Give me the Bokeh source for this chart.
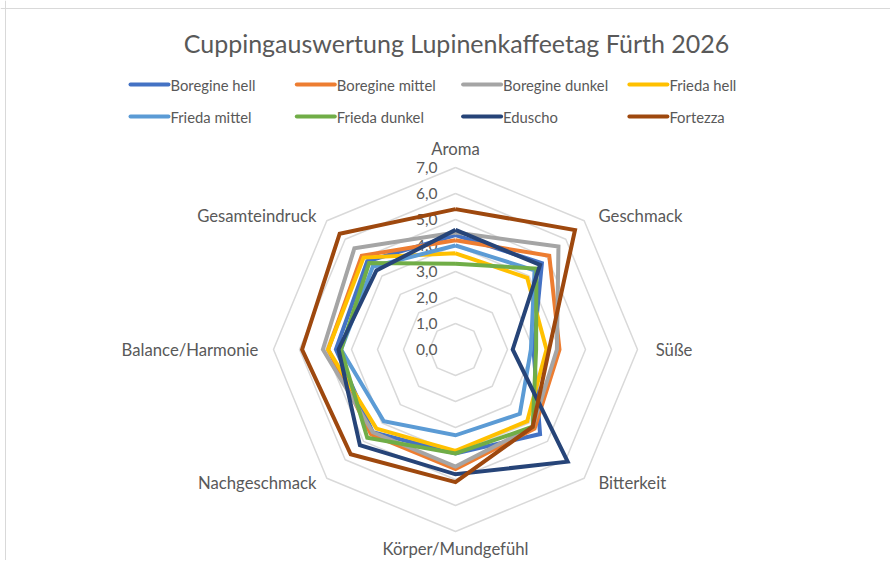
import numpy as np
from bokeh.plotting import figure
from bokeh.models import Range1d, Span, ColumnDataSource
from bokeh.embed import file_html
from bokeh.resources import INLINE
from bokeh.core.properties import value

# ---------------- data ----------------
title_text = "Cuppingauswertung Lupinenkaffeetag Fürth 2026"
categories = ["Aroma", "Geschmack", "Süße", "Bitterkeit", "Körper/Mundgefühl",
              "Nachgeschmack", "Balance/Harmonie", "Gesamteindruck"]
series_names = ["Boregine hell", "Boregine mittel", "Boregine dunkel", "Frieda hell",
                "Frieda mittel", "Frieda dunkel", "Eduscho", "Fortezza"]
boregine_hell = [4.4, 4.7, 3.0, 4.6, 4.0, 4.5, 4.6, 4.8]
boregine_mittel = [4.2, 5.1, 4.0, 4.3, 4.6, 4.6, 4.9, 5.1]
boregine_dunkel = [4.5, 5.6, 3.9, 4.2, 4.5, 4.5, 5.1, 5.5]
frieda_hell = [3.7, 3.9, 3.5, 3.9, 3.9, 4.3, 4.9, 5.0]
frieda_mittel = [4.0, 4.3, 2.9, 3.5, 3.3, 3.9, 4.4, 4.5]
frieda_dunkel = [3.3, 4.4, 3.1, 4.2, 4.0, 4.8, 4.4, 4.7]
eduscho = [4.6, 4.6, 2.2, 6.1, 4.8, 5.2, 4.5, 4.3]
fortezza = [5.4, 6.5, 3.6, 4.2, 5.1, 5.7, 5.9, 6.3]
tick_values = [0, 1, 2, 3, 4, 5, 6, 7]
tick_labels = ["0,0", "1,0", "2,0", "3,0", "4,0", "5,0", "6,0", "7,0"]

all_series = [boregine_hell, boregine_mittel, boregine_dunkel, frieda_hell,
              frieda_mittel, frieda_dunkel, eduscho, fortezza]
colors = ["#4472C4", "#ED7D31", "#A5A5A5", "#FFC000",
          "#5B9BD5", "#70AD47", "#264478", "#9E480E"]

# ---------------- geometry ----------------
W, H = 890, 560
U = 26.0            # pixels per unit
CXP, CYP = 455, 349  # picture coordinates of radar centre
OFF = 0


def P(xp, yp):
    """picture pixel -> data coordinates"""
    return (xp - CXP) / U, (CYP - yp) / U


n = len(categories)
theta = np.pi / 2 - np.arange(n) * 2 * np.pi / n

p = figure(width=W, height=H, output_backend="svg", toolbar_location=None,
           min_border=0, outline_line_color=None,
           x_range=Range1d(-(CXP - OFF) / U, (W - (CXP - OFF)) / U),
           y_range=Range1d(-(H - (CYP - OFF)) / U, (CYP - OFF) / U))
p.axis.visible = False
p.grid.visible = False
p.background_fill_color = "white"
p.border_fill_color = "white"

# chart area border (top / left)
p.add_layout(Span(location=P(0, 8)[1], dimension="width", line_color="#d9d9d9", line_width=1))
p.add_layout(Span(location=P(5, 0)[0], dimension="height", line_color="#d9d9d9", line_width=1))

# rings
ring_xs, ring_ys = [], []
for r in tick_values[1:]:
    ring_xs.append(list(r * np.cos(theta)) + [r * np.cos(theta[0])])
    ring_ys.append(list(r * np.sin(theta)) + [r * np.sin(theta[0])])
p.multi_line(ring_xs, ring_ys, line_color="#d9d9d9", line_width=1.5)

# tick labels
tx = P(437, 0)[0]
p.text(x=[tx] * len(tick_values), y=tick_values, text=tick_labels,
       text_align="right", text_baseline="middle", text_color="#595959",
       text_font=value("Lato"), text_font_size="15.5px")

# series
for vals, col in zip(all_series, colors):
    v = np.array(vals + [vals[0]])
    th = np.append(theta, theta[0])
    p.line(v * np.cos(th), v * np.sin(th), line_color=col, line_width=4,
           line_join="miter")

# category labels
R = tick_values[-1]
lab_x, lab_y, lab_align = [], [], []
offs = [(0, 0.72, "center"), (0.55, 0.2, "left"), (0.7, 0.0, "left"),
        (0.55, -0.2, "left"), (0, -0.66, "center"), (-0.4, -0.2, "right"),
        (-0.58, 0.0, "right"), (-0.4, 0.2, "right")]
for k in range(n):
    dx, dy, al = offs[k]
    lab_x.append(R * np.cos(theta[k]) + dx)
    lab_y.append(R * np.sin(theta[k]) + dy)
    lab_align.append(al)
src = ColumnDataSource(dict(x=lab_x, y=lab_y, t=categories, a=lab_align))
p.text(x="x", y="y", text="t", text_align="a", source=src, text_baseline="middle",
       text_color="#595959", text_font=value("Lato"), text_font_size="16.7px")

# title
p.text(x=[P(456, 0)[0]], y=[P(0, 42)[1]], text=[title_text], text_align="center",
       text_baseline="middle", text_color="#595959", text_font=value("Lato"),
       text_font_size="25px")

# legend
lx0, lx1, ly, ltx = [], [], [], []
for i in range(len(series_names)):
    row, c = divmod(i, 4)
    x0p = 130 + c * 166.3
    yp = 84 + row * 32
    lx0.append(P(x0p, 0)[0])
    lx1.append(P(x0p + 38, 0)[0])
    ly.append(P(0, yp)[1])
    ltx.append(P(x0p + 40, 0)[0])
p.segment(x0=lx0, y0=ly, x1=lx1, y1=ly, line_color=colors, line_width=4,
          line_cap="round")
p.text(x=ltx, y=ly, text=series_names, text_align="left", text_baseline="middle",
       text_color="#595959", text_font=value("Lato"), text_font_size="14.8px")

open("out.html", "w").write(file_html(p, INLINE))
